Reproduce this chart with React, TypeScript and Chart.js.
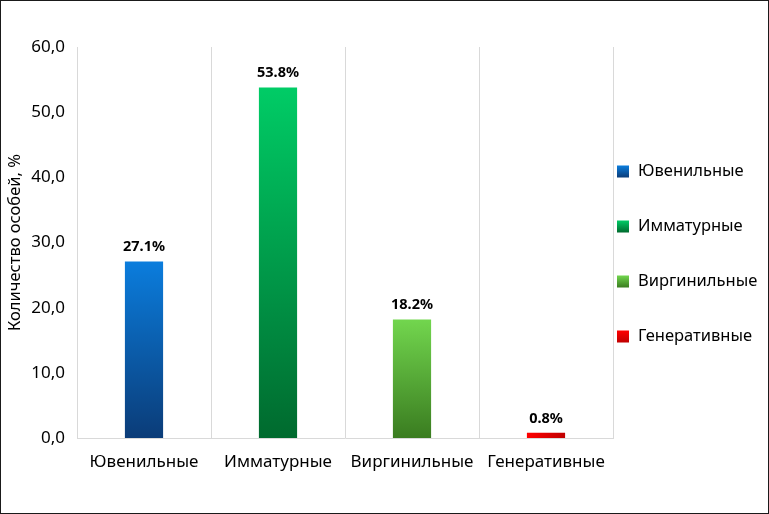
import React, { useEffect, useRef } from 'react';
import { Chart, registerables } from 'chart.js';

Chart.register(...registerables);

// Chart data
const categories = ['Ювенильные', 'Имматурные', 'Виргинильные', 'Генеративные'];
const values = [27.1, 53.8, 18.2, 0.8];
const yTitle = 'Количество особей, %';
const yMin = 0;
const yMax = 60;
const yStep = 10;

// Gradient colours per bar (top / bottom, red one runs left to right)
const topColors = ['#0b7ddd', '#00cc66', '#72d64e', '#ff0000'];
const bottomColors = ['#0b3c78', '#006a2e', '#3a7c20', '#c00000'];

const FONT = '"Noto Sans", "Open Sans", sans-serif';
const BAR_PCT = 0.285;

const barGradient = (chart: Chart, i: number) => {
  const ctx = chart.ctx;
  const x = chart.scales.x;
  const y = chart.scales.y;
  if (!chart.chartArea || !x || !y) return topColors[i];
  if (i === 3) {
    const cx = x.getPixelForValue(i);
    const half = (x.width / categories.length) * BAR_PCT / 2;
    const g = ctx.createLinearGradient(cx - half, 0, cx + half, 0);
    g.addColorStop(0, topColors[i]);
    g.addColorStop(1, bottomColors[i]);
    return g;
  }
  const top = y.getPixelForValue(values[i]);
  const bottom = y.getPixelForValue(0);
  const g = ctx.createLinearGradient(0, top, 0, bottom);
  g.addColorStop(0, topColors[i]);
  g.addColorStop(1, bottomColors[i]);
  return g;
};

// Value labels above the bars
const valueLabelPlugin = {
  id: 'valueLabels',
  afterDatasetsDraw(chart: Chart) {
    const ctx = chart.ctx;
    const meta = chart.getDatasetMeta(0);
    ctx.save();
    ctx.font = `bold 14.5px ${FONT}`;
    ctx.fillStyle = '#000';
    ctx.textAlign = 'center';
    ctx.textBaseline = 'alphabetic';
    meta.data.forEach((bar: any, i: number) => {
      ctx.fillText(values[i].toFixed(1) + '%', bar.x, bar.y - 10);
    });
    ctx.restore();
  },
};

// Legend on the right, drawn by hand to match the spacing
const sideLegendPlugin = {
  id: 'sideLegend',
  afterDraw(chart: Chart) {
    const ctx = chart.ctx;
    const left = chart.chartArea.right + 4;
    const size = 12;
    ctx.save();
    ctx.font = `16.5px ${FONT}`;
    ctx.textBaseline = 'middle';
    ctx.textAlign = 'left';
    categories.forEach((name, i) => {
      const cy = chart.height / 2 + (i - 1.5) * 55 - 3;
      const g = ctx.createLinearGradient(0, cy - size / 2, 0, cy + size / 2);
      g.addColorStop(0, topColors[i]);
      g.addColorStop(1, bottomColors[i]);
      ctx.fillStyle = g;
      ctx.fillRect(left, cy - size / 2, size, size);
      ctx.fillStyle = '#000';
      ctx.fillText(name, left + 21, cy);
    });
    ctx.restore();
  },
};

const App: React.FC = () => {
  const canvasRef = useRef<HTMLCanvasElement | null>(null);

  useEffect(() => {
    document.body.style.margin = '0';
    if (!canvasRef.current) return;

    const chart = new Chart(canvasRef.current, {
      type: 'bar',
      data: {
        labels: categories,
        datasets: [
          {
            label: yTitle,
            data: values,
            backgroundColor: (c: any) => barGradient(c.chart, c.dataIndex),
            borderWidth: 0,
            barPercentage: BAR_PCT,
            categoryPercentage: 1,
          },
        ],
      },
      options: {
        animation: false,
        responsive: false,
        maintainAspectRatio: false,
        layout: { padding: { top: 46, right: 155, bottom: 0, left: 0 } },
        plugins: {
          legend: { display: false },
          tooltip: { enabled: false },
        },
        scales: {
          x: {
            offset: true,
            grid: { display: true, color: '#d9d9d9', drawTicks: false, offset: true },
            border: { display: true, color: '#d9d9d9' },
            ticks: { color: '#000', padding: 14, font: { family: FONT, size: 17 } },
            afterFit: (scale: any) => {
              scale.height = 75;
            },
          },
          y: {
            min: yMin,
            max: yMax,
            grid: { display: false, drawTicks: false },
            border: { display: true, color: '#d9d9d9' },
            ticks: {
              stepSize: yStep,
              color: '#000',
              padding: 12,
              font: { family: FONT, size: 17 },
              callback: (v: any) => Number(v).toFixed(1).replace('.', ','),
            },
            title: {
              display: true,
              text: yTitle,
              color: '#000',
              padding: { top: 4, bottom: 0 },
              font: { family: FONT, size: 16.5 },
            },
            afterFit: (scale: any) => {
              scale.width = 76;
            },
          },
        },
      },
      plugins: [valueLabelPlugin, sideLegendPlugin],
    });

    return () => {
      chart.destroy();
    };
  }, []);

  return (
    <div
      style={{
        width: 769,
        height: 514,
        boxSizing: 'border-box',
        border: '1px solid #1a1a1a',
        background: '#fff',
      }}
    >
      <canvas ref={canvasRef} width={767} height={512} style={{ display: 'block' }}></canvas>
    </div>
  );
};

export default App;
